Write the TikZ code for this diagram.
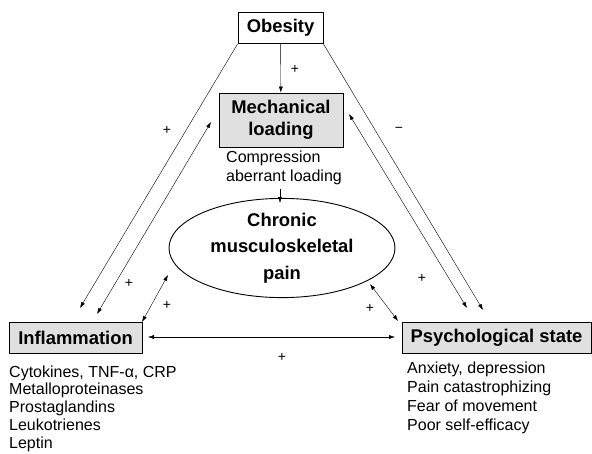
\documentclass[tikz,border=0pt]{standalone}
\usepackage{fontspec}
\setmainfont{Liberation Sans}
\usetikzlibrary{arrows.meta,shapes.geometric}
\begin{document}
\begin{tikzpicture}[x=1pt,y=-1pt,
		>={Latex[length=6pt,width=4pt]},
		box/.style={draw, line width=0.9pt, minimum height=31pt, inner sep=2pt,
			font=\fontsize{18.4}{22}\selectfont\bfseries},
		grey/.style={fill=black!12},
		item/.style={anchor=west, inner sep=0pt, text height=11.5pt, text depth=3.5pt,
			font=\fontsize{16}{18}\selectfont},
		sign/.style={font=\fontsize{14}{14}\selectfont}]
	\useasboundingbox (0,0) rectangle (592,453);
	% boxes
	\node [box, fill=white, minimum width=85pt] (obes) at (280.5,28) {Obesity};
	\node [box, grey, minimum width=124pt, minimum height=54pt, align=center] (mech) at (281,120) {Mechanical\\loading};
	\node [box, grey, minimum width=133pt] (infl) at (75.5,337.5) {Inflammation};
	\node [box, grey, minimum width=189pt] (psych) at (496.5,337.5) {Psychological state};
	\node [draw, ellipse, line width=0.9pt, minimum width=226pt, minimum height=86pt, inner sep=0pt,
		align=center, font=\fontsize{18.4}{26.5}\selectfont\bfseries] (pain) at (282,248)
		{Chronic\\musculoskeletal\\pain};
	% texts
	\node [item] (comp) at (226,158) {Compression};
	\node [item] (aber) at (226,177) {aberrant loading};
	\foreach \t [count=\i] in {{Cytokines, TNF-α, CRP},Metalloproteinases,Prostaglandins,Leukotrienes,Leptin}
	\node [item] at (9,355.5+17.7*\i) {\t};
	\foreach \t [count=\i] in {{Anxiety, depression},Pain catastrophizing,Fear of movement,Poor self-efficacy}
	\node [item] at (407,351+18.9*\i) {\t};
	% end points
	\coordinate (a1) at (80,308);
	\coordinate (a2) at (97,314);
	\coordinate (a3) at (211,122);
	\coordinate (b1) at (483,310);
	\coordinate (b2) at (467,308);
	\coordinate (b3) at (349,114);
	\coordinate (c1) at (142,322);
	\coordinate (c2) at (168,275);
	\coordinate (d1) at (370,284);
	\coordinate (d2) at (398,321);
	\coordinate (e1) at (148,337);
	\coordinate (e2) at (395,337);
	\coordinate (f1) at (280,189);
	\coordinate (f2) at (280,203);
	% connectors
	\draw [->] (obes) -- (mech);
	\draw [->] (obes.south west) -- (a1);
	\draw [<->] (a3) -- (a2);
	\draw [->] (obes.south east) -- (b1);
	\draw [<->] (b3) -- (b2);
	\draw [<->] (c1) -- (c2);
	\draw [<->] (d1) -- (d2);
	\draw [<->] (e1) -- (e2);
	\draw [->] (f1) -- (f2);
	% signs
	\node [sign] at (295,69) {+};
	\node [sign] at (167,130) {+};
	\node [sign] at (399,130) {\textminus};
	\node [sign] at (129,283) {+};
	\node [sign] at (167,305) {+};
	\node [sign] at (370,308) {+};
	\node [sign] at (422,278) {+};
	\node [sign] at (282,357) {+};
\end{tikzpicture}
\end{document}
